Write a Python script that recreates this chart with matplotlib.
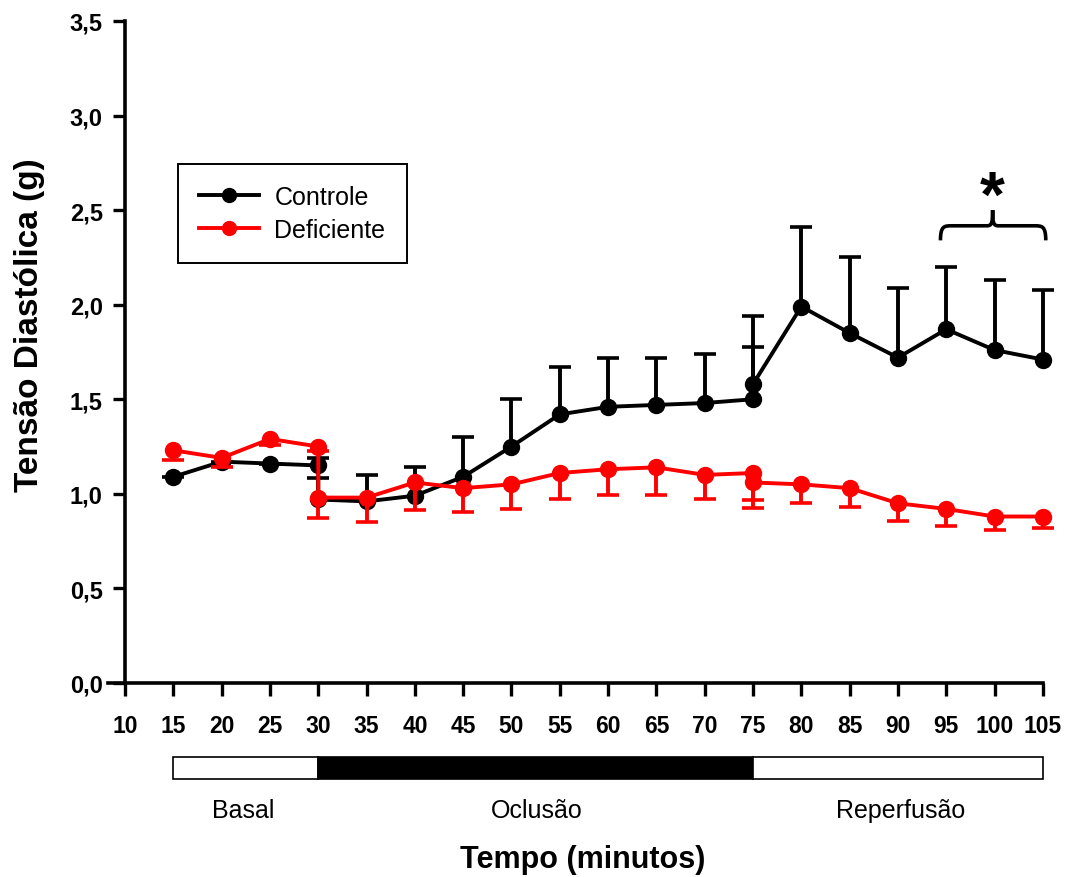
import matplotlib
matplotlib.use("Agg")
import matplotlib.pyplot as plt
from matplotlib.path import Path
from matplotlib.patches import PathPatch, Rectangle
from matplotlib.lines import Line2D
import matplotlib.transforms as mtransforms
import numpy as np

plt.rcParams['font.family'] = ['Liberation Sans', 'DejaVu Sans']

# tempo (min); 30 e 75 aparecem duas vezes (fim/início de cada fase)
tempo = [15, 20, 25, 30, 30, 35, 40, 45, 50, 55, 60, 65, 70, 75, 75, 80, 85, 90, 95, 100, 105]

controle = [1.09, 1.17, 1.16, 1.15, 0.97, 0.96, 0.99, 1.09, 1.25, 1.42, 1.46, 1.47, 1.48,
            1.50, 1.58, 1.99, 1.85, 1.72, 1.87, 1.76, 1.71]
controle_ep = [0.0, 0.0, 0.0, 0.04, 0.115, 0.14, 0.15, 0.21, 0.25, 0.25, 0.26, 0.25, 0.26,
               0.275, 0.36, 0.42, 0.40, 0.37, 0.33, 0.37, 0.365]

deficiente = [1.23, 1.19, 1.29, 1.25, 0.98, 0.98, 1.06, 1.03, 1.05, 1.11, 1.13, 1.14, 1.10,
              1.11, 1.06, 1.05, 1.03, 0.95, 0.92, 0.88, 0.88]
deficiente_ep = [0.05, 0.05, 0.03, 0.025, 0.106, 0.127, 0.148, 0.127, 0.132, 0.137, 0.137, 0.148,
                 0.125, 0.144, 0.133, 0.10, 0.10, 0.095, 0.092, 0.07, 0.06]

# fases do protocolo: (inicio, fim, cor, nome)
fases = [(15, 30, 'white', 'Basal'), (30, 75, 'black', 'Oclusão'), (75, 105, 'white', 'Reperfusão')]
rotulo_pos = [22.2, 52.6, 90.3]

xticks = list(range(10, 106, 5))
yticks = [0, 0.5, 1.0, 1.5, 2.0, 2.5, 3.0, 3.5]

fig = plt.figure(figsize=(10.66, 8.78), dpi=100)
ax = fig.add_axes([0.1173, 0.221, 0.8610, 0.754])


def serie(y, ep, cor, lado, z):
    y = np.array(y)
    ep = np.array(ep)
    fim = y + ep if lado > 0 else y - ep
    ax.vlines(tempo, y, fim, colors=cor, linewidth=2.8, zorder=z, clip_on=False)
    ax.plot(tempo, fim, linestyle='none', marker='_', markersize=16, mew=2.6,
            color=cor, zorder=z, clip_on=False)
    ax.plot(tempo, y, color=cor, marker='o', markersize=11.5, linewidth=2.8,
            zorder=z, clip_on=False)


serie(controle, controle_ep, 'black', +1, 2)
serie(deficiente, deficiente_ep, 'red', -1, 3)

ax.set_xlim(10, 105)
ax.set_ylim(0, 3.5)
ax.set_xticks(xticks)
ax.set_xticklabels([str(t) for t in xticks], fontweight='bold', fontsize=16.5)
ax.set_yticks(yticks)
ax.set_yticklabels([f'{v:.1f}'.replace('.', ',') for v in yticks], fontweight='bold',
                   fontsize=17)
ax.tick_params(direction='out', length=9, width=2.4)
ax.tick_params(axis='y', pad=7)
ax.tick_params(axis='x', pad=13)

for s in ['top', 'right']:
    ax.spines[s].set_visible(False)
for s in ['left', 'bottom']:
    ax.spines[s].set_linewidth(2.6)
ax.spines['bottom'].set_bounds(8.2, 105)

ax.set_ylabel('Tensão Diastólica (g)', fontsize=24, fontweight='bold')
ax.yaxis.set_label_coords(-0.087, 0.542)

handles = [Line2D([], [], color='black', marker='o', markersize=10, linewidth=2.8),
           Line2D([], [], color='red', marker='o', markersize=10, linewidth=2.8)]
leg = ax.legend(handles, ['Controle', 'Deficiente'], loc='upper left',
                bbox_to_anchor=(0.0577, 0.784), fontsize=18, fancybox=False,
                edgecolor='black', framealpha=1, handlelength=2.4, handletextpad=0.6,
                borderpad=0.85, labelspacing=0.35, borderaxespad=0)
leg.get_frame().set_linewidth(1.4)

# chave e asterisco sobre 95-105
verts = [(94.4, 2.34), (94.4, 2.417), (94.8, 2.417), (95.6, 2.417),
         (99.2, 2.417), (99.7, 2.417), (99.8, 2.43), (99.8, 2.50),
         (99.8, 2.43), (99.9, 2.417), (100.4, 2.417),
         (104.1, 2.417), (104.9, 2.417), (105.3, 2.417), (105.3, 2.34)]
codes = [Path.MOVETO, Path.CURVE4, Path.CURVE4, Path.CURVE4,
         Path.LINETO, Path.CURVE4, Path.CURVE4, Path.CURVE4,
         Path.CURVE4, Path.CURVE4, Path.CURVE4,
         Path.LINETO, Path.CURVE4, Path.CURVE4, Path.CURVE4]
ax.add_patch(PathPatch(Path(verts, codes), fill=False, lw=2.6, edgecolor='black',
                       clip_on=False))
ax.text(99.8, 2.47, '*', ha='center', va='baseline', fontsize=46, fontweight='bold')

# barra das fases abaixo do eixo x
trans = mtransforms.blended_transform_factory(ax.transData, ax.transAxes)
for (ini, fim, cor, nome), xp in zip(fases, rotulo_pos):
    ax.add_patch(Rectangle((ini, -0.145), fim - ini, 0.033, transform=trans,
                           facecolor=cor, edgecolor='black', lw=1.2, clip_on=False))
    ax.text(xp, -0.192, nome, transform=trans, ha='center', va='center', fontsize=18)

ax.text(57.4, -0.266, 'Tempo (minutos)', transform=trans, ha='center', va='center',
        fontsize=22, fontweight='bold')

fig.savefig('out.png', dpi=100)
